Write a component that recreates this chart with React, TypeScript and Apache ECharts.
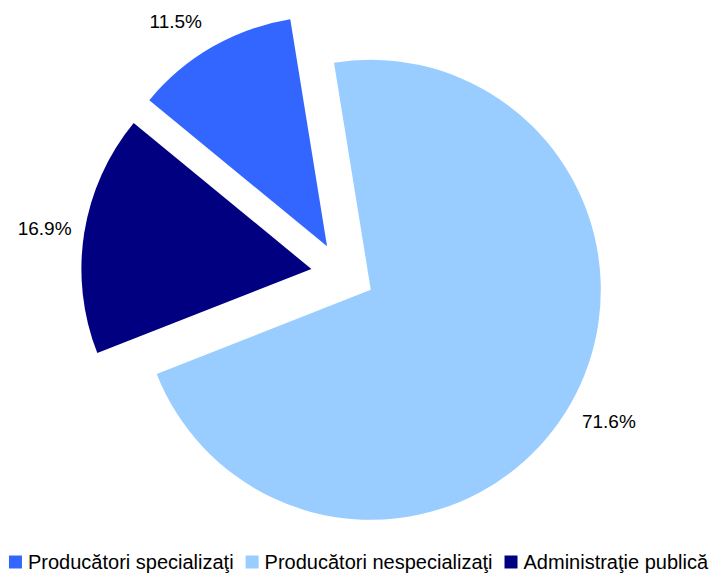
import React, { useEffect, useRef } from "react";
import * as echarts from "echarts";

const categories = ["Producători specializaţi", "Producători nespecializaţi", "Administraţie publică"];
const values = [11.5, 71.6, 16.9];
const colors = ["#3366FF", "#99CCFF", "#000080"];
const labelLengths = [29, 36, 28];
const labelLengths2 = [-4, -20, -15];

export default function App() {
  const ref = useRef<HTMLDivElement>(null);
  useEffect(() => {
    if (!ref.current) return;
    const chart = echarts.init(ref.current, undefined, { renderer: "svg" });
    const font = "Arial, 'Liberation Sans', sans-serif";
    chart.setOption({
      animation: false,
      backgroundColor: "#ffffff",
      color: colors,
      legend: {
        data: categories,
        left: "center",
        top: 552,
        padding: 0,
        icon: "rect",
        itemWidth: 13,
        itemHeight: 13,
        itemGap: 12,
        selectedMode: false,
        textStyle: { fontFamily: font, fontSize: 20, lineHeight: 20, color: "#000000", padding: [0, 0, 0, 1] },
      },
      series: [
        {
          type: "pie",
          center: [343, 274],
          radius: 230,
          startAngle: 140.6,
          clockwise: true,
          selectedMode: "multiple",
          selectedOffset: 32,
          avoidLabelOverlap: false,
          emphasis: { scale: false },
          label: {
            show: true,
            position: "outside",
            formatter: "{c}%",
            fontFamily: font,
            fontSize: 19,
            color: "#000000",
            distanceToLabelLine: 0,
          },
          labelLine: { show: false },
          data: categories.map((name, i) => ({
            name,
            value: values[i],
            selected: true,
            labelLine: { show: false, length: labelLengths[i], length2: labelLengths2[i] },
          })),
        },
      ],
    });
    return () => chart.dispose();
  }, []);
  return <div ref={ref} style={{ position: "fixed", left: 0, top: 0, width: 717, height: 575 }} />;
}
